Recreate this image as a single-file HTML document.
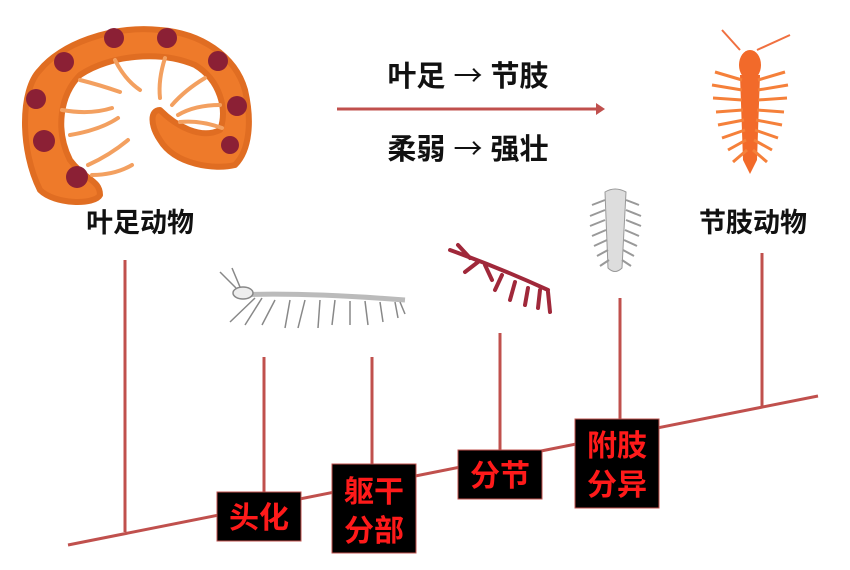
<!DOCTYPE html>
<html><head><meta charset="utf-8"><style>
html,body{margin:0;padding:0;background:#fff;}
svg{display:block}
text{font-family:"Liberation Sans","Noto Sans CJK SC",sans-serif;font-weight:bold;}
.ar{font-family:"Noto Sans CJK SC",sans-serif;font-weight:normal;}
</style></head><body>
<svg width="850" height="570" viewBox="0 0 850 570" xmlns="http://www.w3.org/2000/svg">
<g>
<path d="M40,190 C20,150 20,90 40,70 C60,45 110,25 160,30 C200,33 235,55 245,90 C252,120 250,150 235,165 C215,170 175,165 160,140 C150,125 150,110 160,110 C175,125 200,140 220,130 C228,110 220,80 195,65 C160,50 110,55 80,75 C60,95 55,130 70,160 C85,180 100,180 100,195 C95,205 55,205 40,190 Z" fill="#ee7a2a" stroke="#e06d22" stroke-width="6" stroke-linejoin="round"/>
<g fill="#8b2035">
<circle cx="114" cy="38" r="10"/><circle cx="167" cy="38" r="10"/><circle cx="218" cy="61" r="10"/>
<circle cx="237" cy="106" r="10"/><circle cx="230" cy="145" r="9"/><circle cx="64" cy="62" r="10"/>
<circle cx="36" cy="99" r="10"/><circle cx="44" cy="141" r="11"/><circle cx="77" cy="177" r="11"/>
</g>
<g stroke="#f3a060" stroke-width="4" fill="none" stroke-linecap="round">
<path d="M80,80 Q100,85 120,92"/><path d="M62,110 Q90,115 112,108"/><path d="M70,135 Q100,130 118,118"/>
<path d="M88,165 Q110,155 128,140"/><path d="M92,175 Q115,175 132,165"/><path d="M115,60 Q125,80 140,90"/>
<path d="M165,58 Q158,80 160,98"/><path d="M205,78 Q185,90 172,105"/><path d="M220,105 Q195,105 178,115"/><path d="M222,128 Q200,120 180,122"/>
</g>
</g>
<text x="140" y="232" font-size="27" text-anchor="middle" fill="#111">叶足动物</text>
<text x="468" y="86" font-size="29" text-anchor="middle" fill="#111">叶足 <tspan class="ar">→</tspan> 节肢</text>
<line x1="337" y1="109" x2="598" y2="109" stroke="#c0504d" stroke-width="3"/>
<polygon points="596,103 605,109 596,115" fill="#c0504d"/>
<text x="468" y="159" font-size="29" text-anchor="middle" fill="#111">柔弱 <tspan class="ar">→</tspan> 强壮</text>
<g>
<path d="M740,50 L722,30 M757,50 L790,35" stroke="#f07040" stroke-width="2"/>
<ellipse cx="750" cy="65" rx="11" ry="15" fill="#f26a2a"/>
<path d="M740,75 L760,75 L757,160 L750,174 L743,160 Z" fill="#f26a2a"/>
<g stroke="#f5803a" stroke-width="3" fill="none">
<path d="M742,80 L715,72"/><path d="M742,90 L712,85"/><path d="M742,100 L713,98"/><path d="M743,110 L716,112"/><path d="M744,120 L718,125"/><path d="M745,130 L722,138"/><path d="M746,140 L728,150"/><path d="M747,150 L733,162"/>
<path d="M758,80 L785,72"/><path d="M758,90 L788,85"/><path d="M758,100 L787,98"/><path d="M757,110 L784,112"/><path d="M756,120 L782,125"/><path d="M755,130 L778,138"/><path d="M754,140 L772,150"/><path d="M753,150 L767,162"/>
</g>
</g>
<text x="753" y="232" font-size="27" text-anchor="middle" fill="#111">节肢动物</text>
<g stroke="#888" stroke-width="1.5" fill="none">
<path d="M235,295 Q300,292 405,300" stroke-width="5" stroke="#bbb"/>
<ellipse cx="243" cy="293" rx="10" ry="6" fill="#eee"/>
<path d="M236,288 L220,272 M240,287 L232,268"/>
<path d="M255,298 L230,322 M262,298 L245,325 M275,300 L262,325 M290,300 L285,328 M305,300 L298,328 M320,300 L318,328 M335,300 L332,325 M350,301 L350,325 M365,301 L368,325 M380,302 L383,322 M395,302 L398,318 M400,302 L405,314"/>
</g>
<g stroke="#a0283a" stroke-width="4" fill="none" stroke-linecap="round">
<path d="M450,250 Q500,268 548,290"/>
<path d="M458,245 L470,258 M465,272 L478,262 M485,265 L492,280 M495,290 L502,275 M510,300 L515,282 M525,305 L528,288 M538,308 L540,290 M550,312 L548,292"/>
</g>
<g>
<path d="M605,192 Q615,186 626,192 L622,268 Q615,275 608,268 Z" fill="#ddd" stroke="#999"/>
<g stroke="#999" stroke-width="2">
<path d="M605,200 L592,205 M605,210 L590,216 M605,220 L590,226 M606,230 L592,236 M607,240 L594,246 M608,250 L597,256 M609,260 L600,266"/>
<path d="M626,200 L639,205 M626,210 L641,216 M626,220 L641,226 M625,230 L639,236 M624,240 L637,246 M623,250 L634,256 M622,260 L631,266"/>
</g>
</g>
<g stroke="#c0504d" stroke-width="3" fill="none">
<line x1="68" y1="545" x2="818" y2="396"/>
<line x1="125" y1="260" x2="125" y2="532"/>
<line x1="264" y1="357" x2="264" y2="493"/>
<line x1="372" y1="357" x2="372" y2="465"/>
<line x1="500" y1="333" x2="500" y2="451"/>
<line x1="620" y1="298" x2="620" y2="420"/>
<line x1="762" y1="253" x2="762" y2="407"/>
</g>
<g fill="#000" stroke="#c0504d" stroke-width="1">
<rect x="217" y="492" width="84" height="49"/>
<rect x="332" y="464" width="84" height="89"/>
<rect x="458" y="450" width="84" height="49"/>
<rect x="575" y="419" width="84" height="89"/>
</g>
<g fill="#ff1a1a" font-size="30" text-anchor="middle">
<text x="259" y="528">头化</text>
<text x="374" y="502">躯干</text>
<text x="374" y="541">分部</text>
<text x="500" y="486">分节</text>
<text x="617" y="456">附肢</text>
<text x="617" y="495">分异</text>
</g>
</svg>
</body></html>
